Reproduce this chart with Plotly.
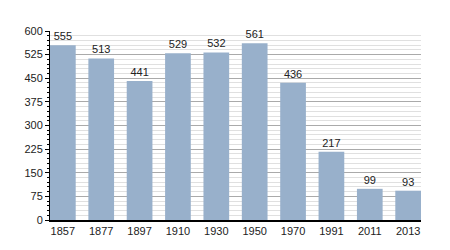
import plotly.graph_objects as go

years = ["1857", "1877", "1897", "1910", "1930", "1950", "1970", "1991", "2011", "2013"]
population = [555, 513, 441, 529, 532, 561, 436, 217, 99, 93]
y_ticks = [0, 75, 150, 225, 300, 375, 450, 525, 600]

fig = go.Figure(go.Bar(
    x=years, y=population,
    marker=dict(color="#98b0cb", line=dict(width=0)),
    text=[str(v) for v in population], textposition="outside",
    textfont=dict(family="Liberation Sans, Arial", size=11, color="#222"),
    cliponaxis=False,
    width=0.67,
))

fig.update_layout(
    width=450, height=250,
    margin=dict(l=50, r=29, t=31, b=30),
    plot_bgcolor="white", paper_bgcolor="white",
    showlegend=False,
    font=dict(family="Liberation Sans, Arial", size=11, color="#222"),
)
fig.update_xaxes(
    type="category", showgrid=False, showline=True, linecolor="black", linewidth=2,
    ticks="", tickfont=dict(size=11), range=[-0.335, 9.335],
)
fig.update_yaxes(
    range=[0, 600], tickvals=y_ticks, showgrid=True, gridcolor="#aaaaaa", gridwidth=1,
    showline=True, linecolor="black", linewidth=1, ticks="outside", ticklen=4,
    tickcolor="black", zeroline=False,
    minor=dict(dtick=15, showgrid=True, gridcolor="#e0e0e0", gridwidth=1,
               ticks="outside", ticklen=2, tickcolor="black"),
    tickfont=dict(size=11),
)

fig.write_html("out.html")
